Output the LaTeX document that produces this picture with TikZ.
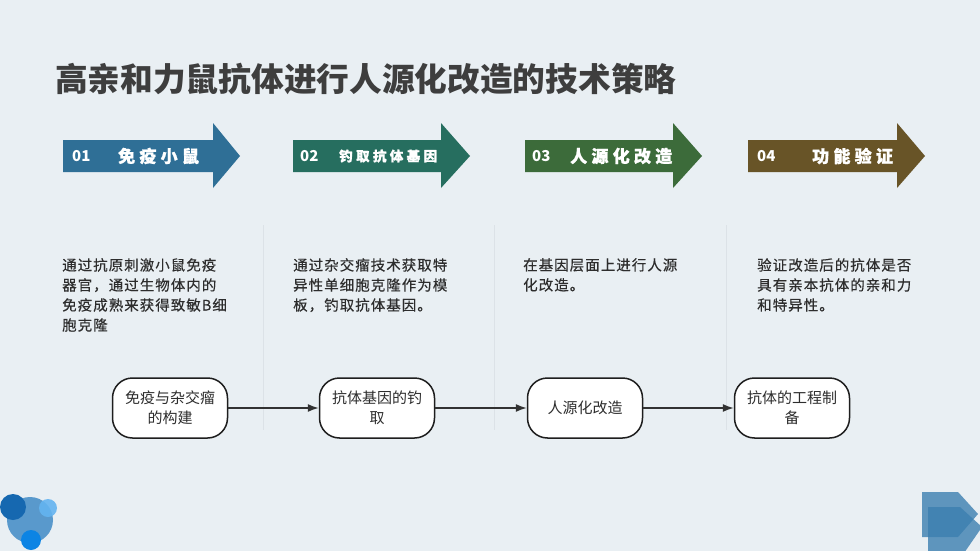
\documentclass[tikz,border=0pt]{standalone}
\usepackage{fontspec}
\setmainfont{Noto Sans CJK SC}
\newfontfamily\widefont[LetterSpace=25, FakeBold=1.2]{Noto Sans CJK SC}
\newfontfamily\descfont[LetterSpace=7, FakeBold=0.3]{Noto Sans CJK SC}
\usepackage{tikz}
\usetikzlibrary{arrows.meta}
\definecolor{bgcolor}{RGB}{233,239,243}
\definecolor{sepline}{RGB}{220,226,231}
\definecolor{titlecolor}{RGB}{62,62,62}
\definecolor{bodytext}{RGB}{45,45,45}
\definecolor{boxline}{RGB}{30,30,30}
\definecolor{flowline}{RGB}{50,50,50}
\definecolor{stepA}{RGB}{47,111,150}
\definecolor{stepB}{RGB}{38,110,95}
\definecolor{stepC}{RGB}{60,107,58}
\definecolor{stepD}{RGB}{104,84,39}
\definecolor{dotbig}{RGB}{74,144,200}
\definecolor{dotdark}{RGB}{22,104,176}
\definecolor{dotlight}{RGB}{100,180,240}
\definecolor{dotbright}{RGB}{12,132,228}
\definecolor{cornerblue}{RGB}{60,127,176}

\begin{document}
\begin{tikzpicture}[x=1pt, y=-1pt,
    flowbox/.style={draw=boxline, line width=1.5pt, fill=white, rounded corners=20pt,
      minimum width=115pt, minimum height=60pt, align=center, text=bodytext,
      inner sep=2pt, font=\fontsize{15}{20}\selectfont},
    flowarrow/.style={draw=flowline, line width=1.4pt, -{Latex[length=11pt, width=8pt]}},
    desc/.style={anchor=north west, align=left, inner sep=0pt, text=bodytext,
      font=\descfont\fontsize{14.5}{20}\selectfont},
    stepnum/.style={anchor=west, inner sep=0pt, text=white, font=\bfseries\fontsize{15}{18}\selectfont},
    steptext/.style={anchor=west, inner sep=0pt, text=white, font=\widefont\bfseries\fontsize{17}{20}\selectfont}]
    \fill[bgcolor] (0,0) rectangle (980,551);
    \useasboundingbox (0,0) rectangle (980,551);

    % title
    \node[anchor=west, inner sep=0pt, text=titlecolor, font=\bfseries\fontsize{32.7}{36}\selectfont]
      (title) at (55,79) {高亲和力鼠抗体进行人源化改造的技术策略};

    % step arrows
    \foreach \xa/\xb/\xt/\col in {63/213/240/stepA, 293/441/470/stepB, 525/673/702/stepC, 748/897/925/stepD}{
      \fill[\col] (\xa,140) -- (\xb,140) -- (\xb,123) -- (\xt,156) -- (\xb,188) -- (\xb,172) -- (\xa,172) -- cycle;
    }
    \node[stepnum] (numA) at (72,156) {01};
    \node[steptext] (stepA) at (118,156) {免疫小鼠};
    \node[stepnum] (numB) at (300,156) {02};
    \node[steptext, font=\widefont\bfseries\fontsize{13.5}{16}\selectfont] (stepB) at (339,156) {钓取抗体基因};
    \node[stepnum] (numC) at (532,156) {03};
    \node[steptext] (stepC) at (570,156) {人源化改造};
    \node[stepnum] (numD) at (757,156) {04};
    \node[steptext] (stepD) at (812,156) {功能验证};

    % separators
    \foreach \x in {263,494,726}{
      \draw[sepline, line width=1pt] (\x,225) -- (\x,430);
    }

    % descriptions
    \node[desc] (descA) at (62,258) {通过抗原刺激小鼠免疫\\器官，通过生物体内的\\免疫成熟来获得致敏B细\\胞克隆};
    \node[desc] (descB) at (293,258) {通过杂交瘤技术获取特\\异性单细胞克隆作为模\\板，钓取抗体基因。};
    \node[desc] (descC) at (523,258) {在基因层面上进行人源\\化改造。};
    \node[desc] (descD) at (757,258) {验证改造后的抗体是否\\具有亲本抗体的亲和力\\和特异性。};

    % flow
    \node[flowbox] (immune) at (170,408) {免疫与杂交瘤\\的构建};
    \node[flowbox] (fishing) at (377,408) {抗体基因的钓\\取};
    \node[flowbox] (humanize) at (585,408) {人源化改造};
    \node[flowbox] (prepare) at (792,408) {抗体的工程制\\备};
    \draw[flowarrow] (immune) -- (fishing);
    \draw[flowarrow] (fishing) -- (humanize);
    \draw[flowarrow] (humanize) -- (prepare);

    % corner marks
    \fill[dotbig, opacity=.9] (30,520) circle (23);
    \fill[dotlight, opacity=.9] (48,508) circle (9);
    \fill[dotdark] (13,507) circle (13);
    \fill[dotbright] (31,540) circle (10);
    \fill[cornerblue, opacity=.8] (922,492) -- (958,492) -- (978,514) -- (958,537) -- (922,537) -- cycle;
    \fill[cornerblue, opacity=.8] (928,507) -- (960,507) -- (982,527) -- (962,556) -- (928,556) -- cycle;
  \end{tikzpicture}
\end{document}
